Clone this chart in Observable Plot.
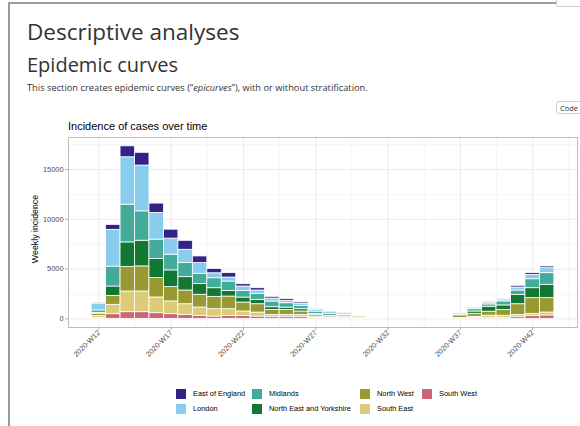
<!DOCTYPE html>
<html>
<head>
<meta charset="utf-8">
<script src="https://cdn.jsdelivr.net/npm/d3@7"></script>
<script src="https://cdn.jsdelivr.net/npm/@observablehq/plot@0.6"></script>
<style>
  html, body { margin: 0; padding: 0; background: #fff; width: 580px; height: 426px; overflow: hidden; }
  body { position: relative; font-family: "Open Sans", sans-serif; color: #333; }
  .abs { position: absolute; white-space: nowrap; line-height: 1; }
  #frame { position: absolute; left: 8px; top: 2px; width: 700px; height: 600px; border-left: 2px solid #9a9a9a; border-top: 2px solid #9a9a9a; }
  #topbtn { position: absolute; left: 556px; top: -6px; width: 30px; height: 11px; border: 1px solid #d0d0d0; border-radius: 3px; background: #fff; }
  #codebtn { position: absolute; left: 556px; top: 101px; width: 30px; height: 13px; border: 1px solid #cfcfcf; border-radius: 3px; font-size: 7.5px; line-height: 12px; padding-left: 3px; color: #333; box-sizing: border-box; }
  #chart { position: absolute; left: 0; top: 120px; }
  .lab { font-family: "Liberation Sans", Arial, sans-serif; }
  #legend { position: absolute; left: 0; top: 0; }
  .key { position: absolute; width: 12px; height: 12px; box-sizing: border-box; border: 1px solid #fff; }
  .ktxt { position: absolute; font-family: "Liberation Sans", Arial, sans-serif; font-size: 7.4px; color: #000; line-height: 12px; white-space: nowrap; }
</style>
</head>
<body>
<div id="frame"></div>
<div id="topbtn"></div>
<div class="abs" style="left:27px; top:21px; font-size:22.5px; color:#333;">Descriptive analyses</div>
<div class="abs" style="left:27px; top:55px; font-size:20px; color:#333;">Epidemic curves</div>
<div class="abs" style="left:27px; top:83px; font-size:9.3px; color:#333;">This section creates epidemic curves (“<i>epicurves</i>”), with or without stratification.</div>
<div id="codebtn">Code</div>
<div id="chart"></div>
<div class="abs lab" style="left:68px; top:121px; font-size:11px; color:#000;">Incidence of cases over time</div>
<div class="abs lab" style="left:35px; top:229px; font-size:8.8px; color:#000; transform: translate(-50%,-50%) rotate(-90deg);">Weekly incidence</div>
<div id="legend"></div>
<script>
// ---- data ----
const weeks = [12,13,14,15,16,17,18,19,20,21,22,23,24,25,26,27,28,29,30,31,32,33,34,35,36,37,38,39,40,41,42,43];
const regions = ["East of England","London","Midlands","North East and Yorkshire","North West","South East","South West"];
const regionColors = ["#332288","#88CCEE","#44AA99","#117733","#999933","#DDCC77","#CC6677"];
const eastOfEngland = [100,500,1100,1280,940,900,900,670,440,440,230,230,170,170,130,70,30,20,5,0,0,0,0,0,0,10,30,60,60,170,170,170];
const london        = [650,3690,4760,4600,2680,1610,1340,1070,500,400,440,340,300,230,230,170,200,150,20,5,0,0,0,0,5,60,140,170,170,300,440,500];
const midlands      = [250,2000,3790,2950,1950,1580,1410,1040,1000,940,670,600,570,440,340,230,200,150,30,5,0,0,0,0,10,120,230,230,400,440,900,1170];
const northEastYorks= [120,940,2480,2580,1910,1680,1340,1070,870,570,500,440,270,230,230,100,60,50,10,5,0,0,0,0,5,60,230,500,470,940,1000,1340];
const northWest     = [200,900,2450,2520,1950,1440,1380,1280,1240,1270,900,840,500,500,340,170,130,120,150,20,0,0,0,0,40,250,300,400,570,1070,1580,1440];
const southEast     = [200,940,2080,2080,1580,1280,1070,840,740,670,440,400,230,230,230,130,80,60,70,15,0,0,0,0,40,60,130,200,200,230,200,300];
const southWest     = [80,470,670,670,570,470,400,300,230,300,300,230,170,170,170,100,40,20,15,0,0,0,0,0,0,40,80,120,110,170,300,340];
const seriesByRegion = {
  "East of England": eastOfEngland, "London": london, "Midlands": midlands,
  "North East and Yorkshire": northEastYorks, "North West": northWest,
  "South East": southEast, "South West": southWest
};
const xTicks = [12,17,22,27,32,37,42];
const xMinor = [14.5,19.5,24.5,29.5,34.5,39.5,44.5];
const yTicks = [0,5000,10000,15000];
const yMinor = [2500,7500,12500,17500];

// rows, bottom of stack first
const stackOrder = [...regions].reverse();
const rows = [];
weeks.forEach((w, i) => {
  stackOrder.forEach(r => {
    const v = seriesByRegion[r][i];
    if (v > 0) rows.push({week: w, region: r, value: v});
  });
});

const plot = Plot.plot({
  width: 580, height: 250,
  marginTop: 17, marginBottom: 43, marginLeft: 68, marginRight: 3,
  style: {fontFamily: "Liberation Sans, Arial, sans-serif", background: "transparent", overflow: "visible"},
  x: {domain: [9.9, 45.1]},
  y: {domain: [-868, 18218]},
  color: {domain: regions, range: regionColors},
  marks: [
    Plot.gridY(yMinor, {stroke: "#f0f0f0", strokeOpacity: 1, strokeWidth: 0.6}),
    Plot.gridX(xMinor, {stroke: "#f0f0f0", strokeOpacity: 1, strokeWidth: 0.6}),
    Plot.gridY(yTicks, {stroke: "#e6e6e6", strokeOpacity: 1, strokeWidth: 0.8}),
    Plot.gridX(xTicks, {stroke: "#e6e6e6", strokeOpacity: 1, strokeWidth: 0.8}),
    Plot.rectY(rows, Plot.stackY({
      x1: d => d.week - 0.5, x2: d => d.week + 0.5, y: "value", fill: "region",
      order: null, stroke: "white", strokeWidth: 0.8
    })),
    Plot.frame({stroke: "#bdbdbd", strokeWidth: 1}),
    Plot.axisY(yTicks, {tickSize: 3, tickPadding: 2, fontSize: 7.4, fill: "#4d4d4d", stroke: "#b3b3b3",
      tickFormat: d => String(d), label: null}),
    Plot.axisX(xTicks, {tickSize: 3, tickPadding: 1, fontSize: 7.4, fill: "#4d4d4d", stroke: "#b3b3b3",
      tickRotate: -45, tickFormat: d => `2020-W${d}`, label: null})
  ]
});
document.getElementById("chart").appendChild(plot);

// legend (column-major, 2 rows)
const legend = document.getElementById("legend");
const colX = [175, 251, 359, 421];
const rowY = [388, 403];
regions.forEach((r, i) => {
  const col = Math.floor(i / 2), row = i % 2;
  const k = document.createElement("div");
  k.className = "key";
  k.style.left = colX[col] + "px"; k.style.top = rowY[row] + "px";
  k.style.background = regionColors[i];
  legend.appendChild(k);
  const t = document.createElement("div");
  t.className = "ktxt";
  t.style.left = (colX[col] + 18) + "px"; t.style.top = rowY[row] + "px";
  t.textContent = r;
  legend.appendChild(t);
});
</script>
</body>
</html>
